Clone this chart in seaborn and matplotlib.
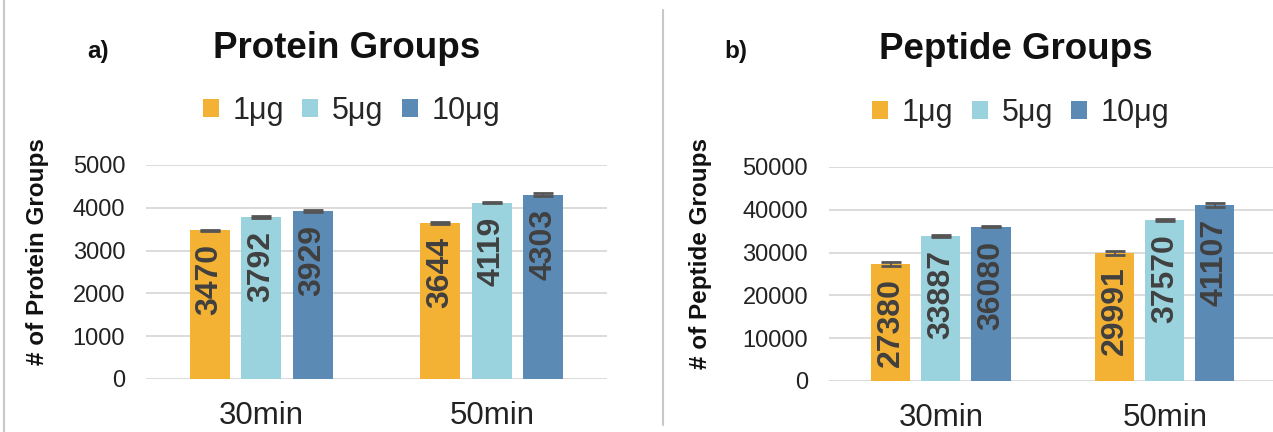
import pandas as pd
import matplotlib.pyplot as plt
import seaborn as sns
from matplotlib.lines import Line2D

# Data
times = ["30min", "50min"]
amounts = ["1μg", "5μg", "10μg"]
bar_colors = ["#F4B235", "#9AD3DE", "#5B8AB5"]

# one list per amount: [30min, 50min]
protein_1ug = [3470, 3644]
protein_5ug = [3792, 4119]
protein_10ug = [3929, 4303]
protein_err_1ug = [20, 25]
protein_err_5ug = [25, 15]
protein_err_10ug = [30, 35]

peptide_1ug = [27380, 29991]
peptide_5ug = [33887, 37570]
peptide_10ug = [36080, 41107]
peptide_err_1ug = [450, 450]
peptide_err_5ug = [300, 200]
peptide_err_10ug = [200, 480]


def make_frame(series):
    rows = []
    for amount, values in zip(amounts, series):
        for t, v in zip(times, values):
            rows.append({"time": t, "amount": amount, "count": v})
    return pd.DataFrame(rows)


def draw_panel(ax, series, errors, ymax, ylabel, label_x, label_y):
    df = make_frame(series)
    sns.barplot(data=df, x="time", y="count", hue="amount", hue_order=amounts,
                order=times, palette=bar_colors, saturation=1, width=0.67,
                gap=0.22, errorbar=None, linewidth=0, ax=ax)

    # error bars and rotated value labels on each bar
    for container, values, errs in zip(ax.containers, series, errors):
        xs = [b.get_x() + b.get_width() / 2 for b in container]
        ax.errorbar(xs, values, yerr=errs, fmt="none", ecolor="#555555",
                    elinewidth=1.3, capsize=7, capthick=2, zorder=3)
        for x, v in zip(xs, values):
            ax.annotate(str(v), (x, v), xytext=(0, -10), textcoords="offset points",
                        rotation=90, ha="center", va="top", fontsize=23,
                        fontweight="bold", color="#404040")

    ax.set_ylim(0, ymax)
    ax.set_xlim(-0.5, 1.5)
    ax.set_yticks(range(0, ymax + 1, ymax // 5))
    ax.yaxis.grid(True, color="#D9D9D9", linewidth=1.3)
    ax.set_axisbelow(True)
    sns.despine(ax=ax, left=True, bottom=True)
    ax.tick_params(axis="y", length=0, pad=15, labelsize=17, labelcolor="#222222")
    ax.tick_params(axis="x", length=0, pad=16, labelsize=22.5, labelcolor="#222222")
    ax.set_xlabel("")
    ax.set_ylabel(ylabel, fontsize=17.5, fontweight="bold", color="#111111")
    ax.yaxis.set_label_coords(label_x, label_y)


def main():
    sns.set_style("white")
    plt.rcParams["font.family"] = ["Liberation Sans", "DejaVu Sans"]

    fig = plt.figure(figsize=(12.73, 4.32), dpi=100)
    ax1 = fig.add_axes([0.1147, 0.1227, 0.3621, 0.4954])
    ax2 = fig.add_axes([0.6512, 0.1181, 0.3519, 0.4954])

    draw_panel(ax1, [protein_1ug, protein_5ug, protein_10ug],
               [protein_err_1ug, protein_err_5ug, protein_err_10ug],
               5000, "# of Protein Groups", -0.21, 0.596)
    draw_panel(ax2, [peptide_1ug, peptide_5ug, peptide_10ug],
               [peptide_err_1ug, peptide_err_5ug, peptide_err_10ug],
               50000, "# of Peptide Groups", -0.262, 0.598)

    # legends above each panel
    for ax, cx, cy in [(ax1, 351.5, 111), (ax2, 1021, 113)]:
        sns.move_legend(ax, "center", bbox_to_anchor=(cx / 1273, 1 - cy / 432),
                        bbox_transform=fig.transFigure, ncol=3, frameon=False,
                        title=None, fontsize=22, handlelength=0.52,
                        handleheight=0.52, handletextpad=0.45, columnspacing=0.6)

    # titles and panel letters
    fig.text(346.5 / 1273, 1 - 58 / 432, "Protein Groups", ha="center", va="baseline",
             fontsize=26.5, fontweight="bold", color="#111111")
    fig.text(1015.5 / 1273, 1 - 59 / 432, "Peptide Groups", ha="center", va="baseline",
             fontsize=26.5, fontweight="bold", color="#111111")
    fig.text(87 / 1273, 1 - 58 / 432, "a)", ha="left", va="baseline",
             fontsize=17.5, fontweight="bold", color="#111111")
    fig.text(724 / 1273, 1 - 58 / 432, "b)", ha="left", va="baseline",
             fontsize=17.5, fontweight="bold", color="#111111")

    # thin gray frame lines from the original layout
    fig.add_artist(Line2D([4 / 1273, 4 / 1273], [0, 1], transform=fig.transFigure,
                          color="#C8C8C8", linewidth=1.5))
    fig.add_artist(Line2D([663 / 1273, 663 / 1273], [1 - 10 / 432, 1 - 425 / 432],
                          transform=fig.transFigure, color="#C8C8C8", linewidth=1.5))

    fig.savefig("out.png", dpi=100)


if __name__ == "__main__":
    main()
